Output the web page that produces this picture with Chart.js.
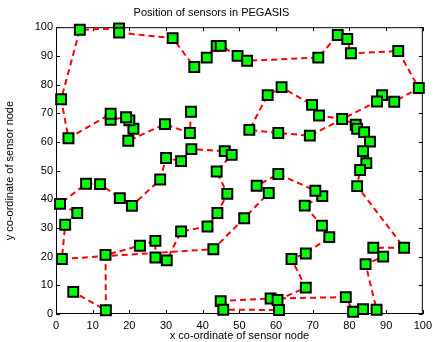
<!DOCTYPE html>
<html>
<head>
<meta charset="utf-8">
<script src="https://cdn.jsdelivr.net/npm/chart.js@4/dist/chart.umd.min.js"></script>
<style>
  html, body { margin: 0; padding: 0; background: #fff; }
</style>
</head>
<body>
<canvas id="chart" width="437" height="342"></canvas>
<script>
// sensor positions in chain order (PEGASIS)
const sensorX = [36.8, 36.5, 29.7, 19.7, 21.1, 20.0, 19.1, 14.9, 14.9, 3.4,
  1.4, 6.5, 17.2, 17.2, 31.8, 37.7, 41.1, 43.8, 44.9, 49.5,
  52.1, 71.5, 76.8, 79.4, 80.4, 93.3, 98.9, 92.2, 88.9, 87.5,
  69.2, 60.6, 52.7, 57.7, 61.5, 69.8, 71.7, 78.0, 81.7, 82.1,
  84.0, 85.6, 83.7, 84.6, 82.9, 82.1, 94.9, 86.5, 89.2, 84.4,
  87.4, 83.7, 81.0, 79.0, 58.5, 44.9, 45.6, 60.8, 60.4, 68.1,
  64.2, 68.1, 74.5, 72.5, 67.8, 72.6, 70.7, 60.6, 54.7, 58.0,
  51.3, 42.9, 1.6, 2.5, 5.8, 1.1, 8.2, 12.0, 17.4, 20.7,
  28.4, 30.0, 34.1, 36.9, 46.0, 47.9, 43.8, 46.7, 44.0, 41.3,
  34.1, 30.2, 27.1, 27.1, 22.9, 13.5, 13.6, 4.7];
const sensorY = [70.5, 63.1, 66.2, 60.4, 64.6, 67.5, 68.6, 67.7, 69.8, 61.3,
  74.9, 99.1, 99.6, 98.1, 96.2, 86.1, 89.4, 93.5, 93.5, 90.0,
  88.3, 89.4, 97.3, 95.9, 90.9, 91.7, 78.8, 74.0, 76.3, 74.1,
  62.2, 63.1, 64.2, 76.3, 79.1, 72.9, 69.2, 68.0, 66.0, 64.6,
  63.4, 60.1, 56.8, 52.6, 50.2, 44.6, 23.1, 23.1, 20.0, 17.4,
  1.5, 1.7, 0.8, 5.9, 5.4, 4.5, 1.5, 1.4, 4.9, 9.2,
  19.2, 21.1, 26.8, 30.8, 37.8, 41.1, 43.0, 48.8, 44.7, 42.2,
  33.4, 22.6, 19.2, 31.1, 35.2, 38.4, 45.4, 45.3, 40.4, 37.7,
  46.9, 54.4, 53.3, 57.5, 56.8, 55.5, 49.7, 41.9, 35.2, 30.5,
  28.8, 18.7, 19.7, 25.5, 23.8, 20.6, 1.3, 7.7];
const tickValues = [0, 10, 20, 30, 40, 50, 60, 70, 80, 90, 100];

const points = sensorX.map((x, i) => ({ x, y: sensorY[i] }));
const font = { family: '"Liberation Sans", Arial, sans-serif', size: 11 };

// MATLAB style box with inward ticks on all four sides
const boxTicks = {
  id: 'boxTicks',
  beforeDatasetsDraw(chart) {
    const { ctx, chartArea: a, scales } = chart;
    const len = 4;
    ctx.save();
    ctx.strokeStyle = '#000';
    ctx.lineWidth = 1;
    ctx.strokeRect(a.left + 0.5, a.top + 0.5, a.right - a.left - 1, a.bottom - a.top - 1);
    ctx.beginPath();
    tickValues.forEach(v => {
      const px = Math.round(scales.x.getPixelForValue(v)) + 0.5;
      ctx.moveTo(px, a.bottom); ctx.lineTo(px, a.bottom - len);
      ctx.moveTo(px, a.top); ctx.lineTo(px, a.top + len);
      const py = Math.round(scales.y.getPixelForValue(v)) + 0.5;
      ctx.moveTo(a.left, py); ctx.lineTo(a.left + len, py);
      ctx.moveTo(a.right, py); ctx.lineTo(a.right - len, py);
    });
    ctx.stroke();
    ctx.restore();
  }
};

new Chart(document.getElementById('chart'), {
  type: 'scatter',
  data: {
    datasets: [{
      data: points,
      showLine: true,
      borderColor: '#ff0000',
      borderWidth: 2,
      borderDash: [6, 4],
      pointStyle: 'rect',
      pointRadius: 7,
      pointBorderWidth: 2,
      pointBorderColor: '#000',
      pointBackgroundColor: '#00ff00',
      clip: false
    }]
  },
  options: {
    responsive: false,
    animation: false,
    layout: { padding: { left: 0, right: 14, top: 0, bottom: 0 } },
    plugins: {
      legend: { display: false },
      tooltip: { enabled: false },
      title: {
        display: true,
        text: 'Position of sensors in PEGASIS',
        color: '#000',
        font: { ...font, weight: 'normal' },
        padding: { top: 6, bottom: 8 }
      }
    },
    scales: {
      x: {
        type: 'linear', min: 0, max: 100,
        afterFit: s => { s.height = 28; },
        afterBuildTicks: s => { s.ticks = tickValues.map(v => ({ value: v })); },
        grid: { display: false, drawTicks: false },
        border: { display: false },
        ticks: { color: '#000', font, padding: 5, maxRotation: 0 },
        title: { display: true, text: 'x co-ordinate of sensor node', color: '#000', font, padding: { top: 0, bottom: -1 } }
      },
      y: {
        type: 'linear', min: 0, max: 100,
        afterFit: s => { s.width = 56; },
        afterBuildTicks: s => { s.ticks = tickValues.map(v => ({ value: v })); },
        grid: { display: false, drawTicks: false },
        border: { display: false },
        ticks: { color: '#000', font, padding: 3 },
        title: { display: true, text: 'y co-ordinate of sensor node', color: '#000', font, padding: { top: 3, bottom: 0 } }
      }
    }
  },
  plugins: [boxTicks]
});
</script>
</body>
</html>
